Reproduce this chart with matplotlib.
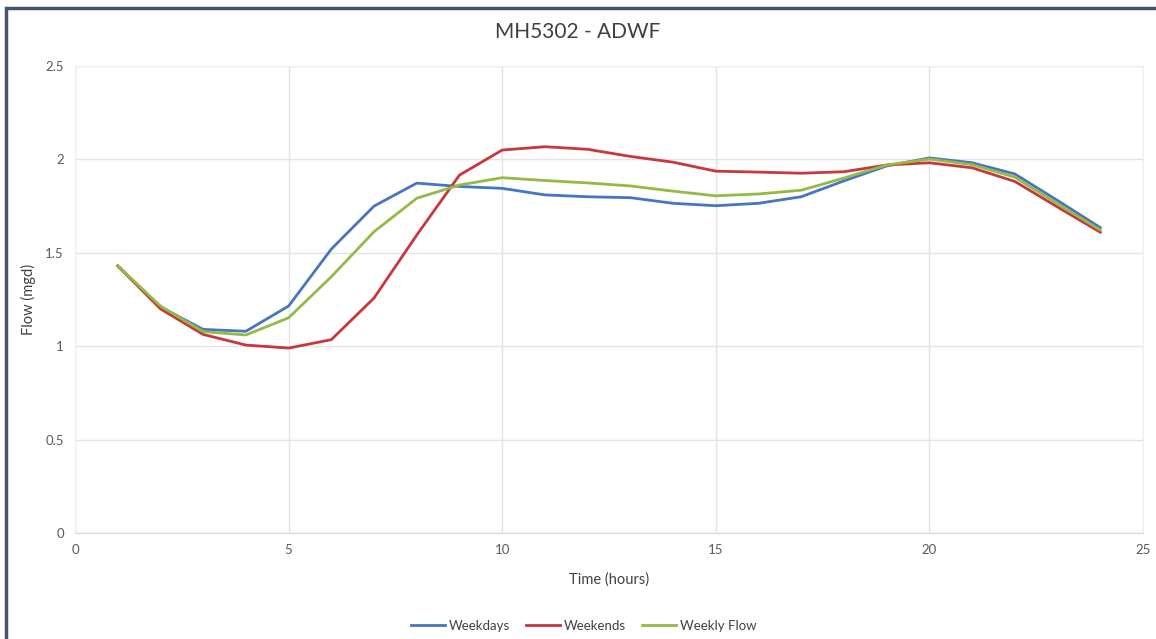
import numpy as np
import matplotlib.pyplot as plt
from matplotlib.patches import Rectangle

plt.rcParams['font.family'] = ['Lato', 'DejaVu Sans']

# Dữ liệu
hours = list(range(1, 25))
weekdays = [1.43, 1.21, 1.09, 1.08, 1.215, 1.52, 1.75, 1.873, 1.855, 1.845,
            1.81, 1.80, 1.795, 1.765, 1.752, 1.765, 1.80, 1.885, 1.965, 2.008,
            1.982, 1.922, 1.78, 1.635]
weekends = [1.43, 1.20, 1.063, 1.006, 0.99, 1.035, 1.258, 1.595, 1.916, 2.05,
            2.068, 2.054, 2.016, 1.985, 1.937, 1.932, 1.926, 1.934, 1.97, 1.982,
            1.955, 1.882, 1.745, 1.61]
weekly = [1.43, 1.215, 1.078, 1.06, 1.152, 1.372, 1.613, 1.792, 1.863, 1.902,
          1.887, 1.874, 1.858, 1.83, 1.805, 1.815, 1.835, 1.9, 1.97, 2.002,
          1.972, 1.905, 1.762, 1.622]

x_ticks = [0, 5, 10, 15, 20, 25]
y_ticks = [0, 0.5, 1, 1.5, 2, 2.5]

fig = plt.figure(figsize=(11.56, 6.39), dpi=100)
ax = fig.add_axes([75 / 1156, 1 - 533 / 639, 1068 / 1156, 467 / 639])

ax.plot(hours, weekdays, color='#4676C2', lw=2.0, label='Weekdays')
ax.plot(hours, weekends, color='#C6383C', lw=2.0, label='Weekends')
ax.plot(hours, weekly, color='#94BA45', lw=2.0, label='Weekly Flow')

ax.set_xlim(0, 25)
ax.set_ylim(0, 2.5)
ax.set_xticks(x_ticks)
ax.set_yticks(y_ticks)
ax.set_xticklabels([str(t) for t in x_ticks])
ax.set_yticklabels(['0', '0.5', '1', '1.5', '2', '2.5'])
ax.grid(True, color='#E3E3E3', lw=1.0)
ax.set_axisbelow(True)
ax.tick_params(length=0, labelsize=9.5, labelcolor='#595959', pad=8)

for side in ['top', 'right', 'left']:
    ax.spines[side].set_color('#EEEEEE')
ax.spines['bottom'].set_color('#D9D9D9')

ax.set_xlabel('Time (hours)', fontsize=10.5, color='#404040', labelpad=12)
ax.set_ylabel('Flow (mgd)', fontsize=10.5, color='#404040', labelpad=7)

fig.text(0.5, 1 - 32 / 639, 'MH5302 - ADWF', ha='center', va='center',
         fontsize=15, color='#404040')

fig.legend(loc='center', bbox_to_anchor=(0.505, 1 - 626 / 639), ncol=3,
           frameon=False, fontsize=9.5, handlelength=2.6, columnspacing=1.2,
           handletextpad=0.3, labelcolor='#404040')

# Khung viền của biểu đồ
fig.patches.append(Rectangle((6 / 1156, -0.05), 1.1, 1 - 8 / 639 + 0.05,
                             transform=fig.transFigure, fill=False,
                             edgecolor='#44546A', lw=2.5))

fig.savefig('out.png', dpi=100)
